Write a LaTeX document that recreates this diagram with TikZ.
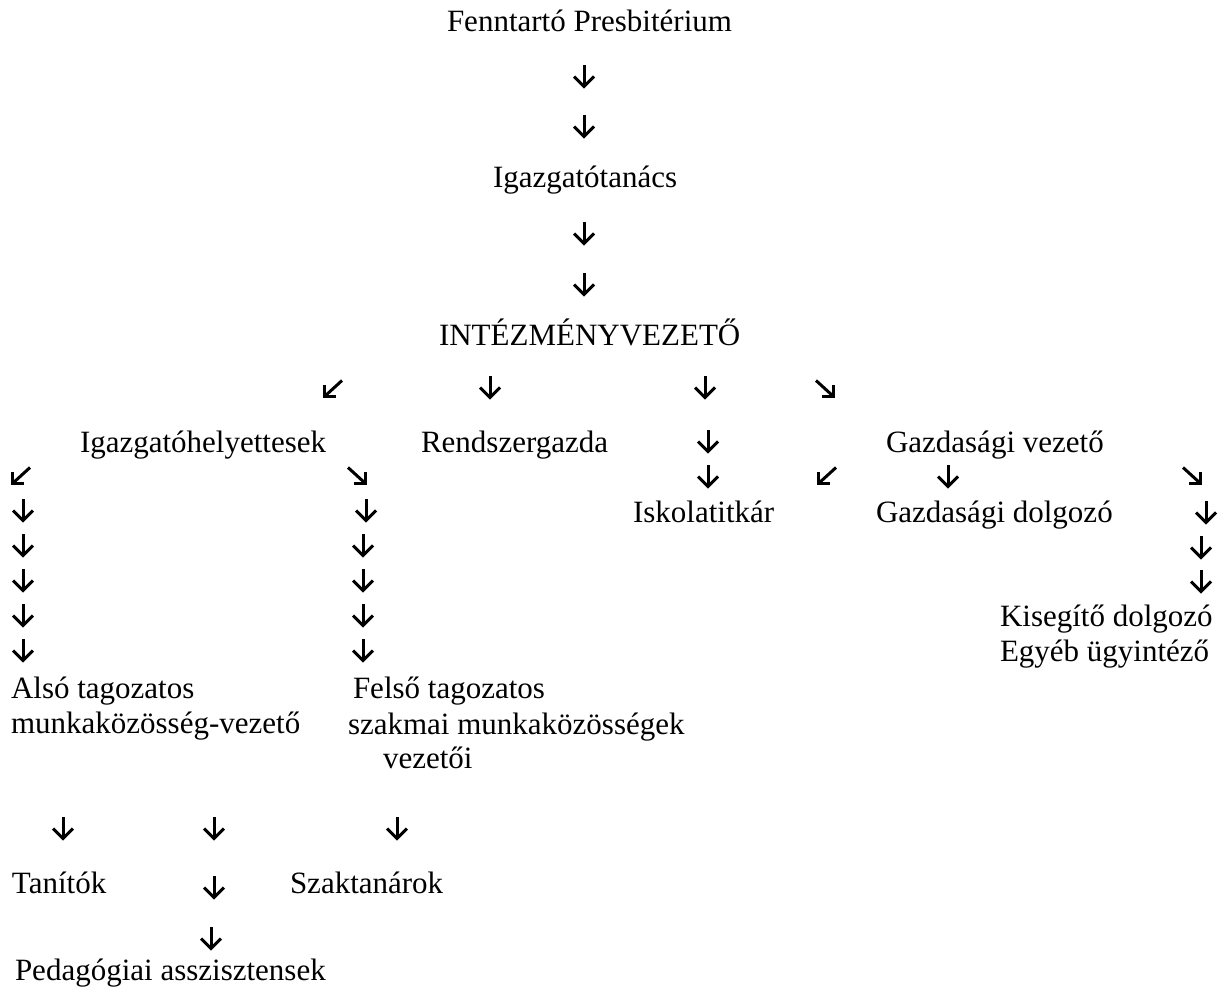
\documentclass[tikz,border=0pt]{standalone}
\usepackage{fontspec}
\setmainfont{Liberation Serif}
\begin{document}
\begin{tikzpicture}[x=1pt,y=-1pt,
  lbl/.style={anchor=base west,inner sep=0pt,outer sep=0pt,font=\fontsize{31}{36}\selectfont},
  glyph/.style={line width=3pt,black},
  darr/.pic={\draw[glyph] (0,-11) -- (0,10.5); \draw[glyph,line join=miter] (-10,0.5) -- (0,10.5) -- (10,0.5);},
  dlarr/.pic={\draw[glyph] (-8.5,7.5) -- (9,-8.5); \draw[glyph,line join=miter] (-8.5,-4) -- (-8.5,7.5) -- (3,7.5);},
  drarr/.pic={\draw[glyph] (8.5,7.5) -- (-9,-8.5); \draw[glyph,line join=miter] (8.5,-4) -- (8.5,7.5) -- (-3,7.5);}
]
\fill[white] (0,0) rectangle (1225,987);
\useasboundingbox (0,0) rectangle (1225,987);
% texts
\node[lbl] (fenn) at (447,32) {Fenntartó Presbitérium};
\node[lbl] (igt) at (493,188) {Igazgatótanács};
\node[lbl] (int) at (439,345) {INTÉZMÉNYVEZETŐ};
\node[lbl] (ighely) at (80,452) {Igazgatóhelyettesek};
\node[lbl] (rendsz) at (421,452) {Rendszergazda};
\node[lbl] (gazdv) at (886,452) {Gazdasági vezető};
\node[lbl] (iskt) at (633,522) {Iskolatitkár};
\node[lbl] (gazdd) at (876,522) {Gazdasági dolgozó};
\node[lbl] (kiseg) at (1000,626) {Kisegítő dolgozó};
\node[lbl] (egyeb) at (1000,661) {Egyéb ügyintéző};
\node[lbl] (also1) at (11,698) {Alsó tagozatos};
\node[lbl] (also2) at (11,733) {munkaközösség-vezető};
\node[lbl] (felso1) at (353,698) {Felső tagozatos};
\node[lbl] (felso2) at (348,734) {szakmai munkaközösségek};
\node[lbl] (felso3) at (383,768) {vezetői};
\node[lbl] (tanit) at (12,893) {Tanítók};
\node[lbl] (szakt) at (290,893) {Szaktanárok};
\node[lbl] (pedas) at (15,980) {Pedagógiai asszisztensek};
% arrows (glyphs)
\pic at (584,76) {darr};
\pic at (584,126) {darr};
\pic at (584,233) {darr};
\pic at (584,284) {darr};
\pic at (333,389) {dlarr};
\pic at (490,387) {darr};
\pic at (705,387) {darr};
\pic at (825,389) {drarr};
\pic at (708,441) {darr};
\pic at (21,476) {dlarr};
\pic at (357,476) {drarr};
\pic at (708,476) {darr};
\pic at (827,476) {dlarr};
\pic at (948,476) {darr};
\pic at (1192,476) {drarr};
\pic at (1206,512) {darr};
\pic at (1201,547) {darr};
\pic at (1201,581) {darr};
\foreach \yy in {510,545,580,615,650} {\pic at (23,\yy) {darr};}
\pic at (366,510) {darr};
\foreach \yy in {545,580,615,650} {\pic at (363,\yy) {darr};}
\pic at (63,828) {darr};
\pic at (214,828) {darr};
\pic at (397,828) {darr};
\pic at (214,887) {darr};
\pic at (211,938) {darr};
\end{tikzpicture}
\end{document}
